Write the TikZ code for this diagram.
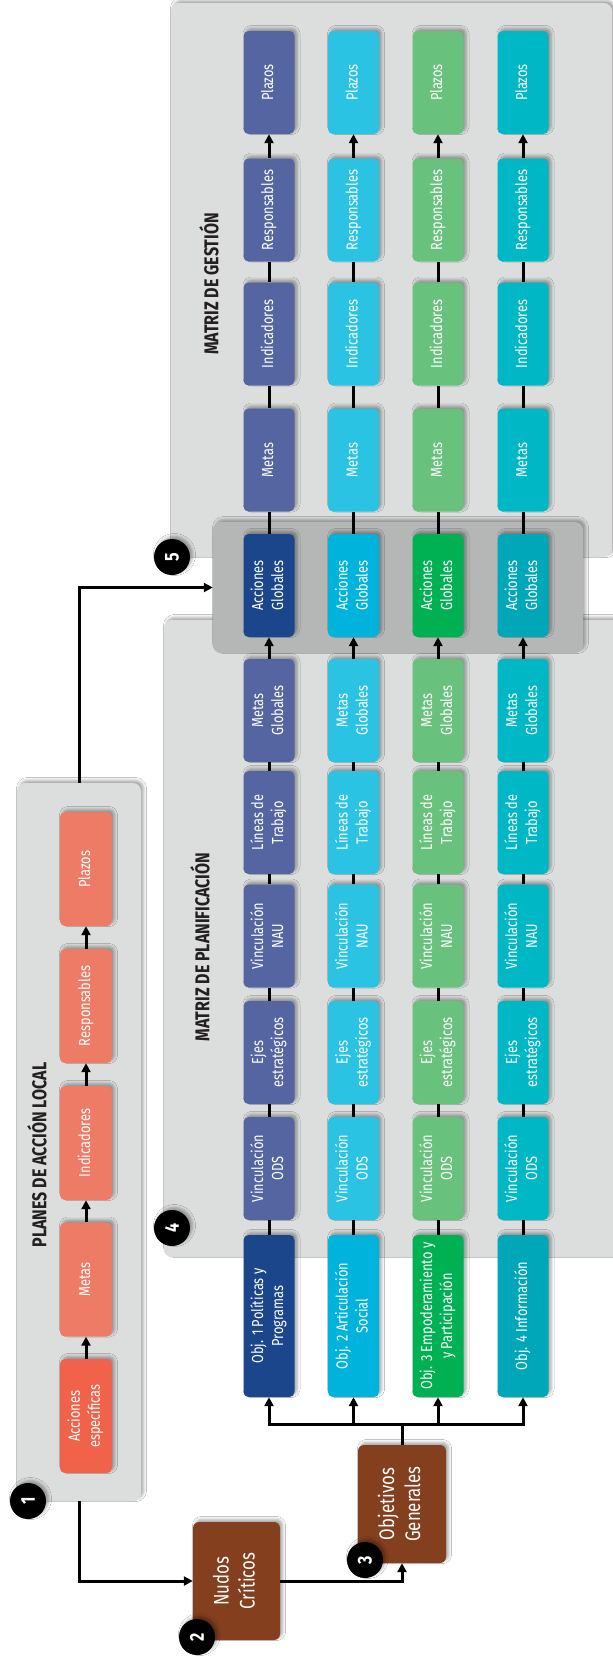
\documentclass[tikz,border=0pt]{standalone}
\usepackage{fontspec}
\usepackage{graphicx}
\setmainfont{Fira Sans}[FakeStretch=0.8]
\usetikzlibrary{arrows.meta,shadows.blur}
\definecolor{boxgray}{HTML}{DCDDDD}
\definecolor{aggray}{HTML}{B5B6B6}
\definecolor{salmon}{HTML}{EE7B66}
\definecolor{accred}{HTML}{F0634A}
\definecolor{brownc}{HTML}{843F1E}
\definecolor{titlec}{HTML}{231F20}
\definecolor{cAl}{HTML}{5565A1}\definecolor{cAd}{HTML}{1B468B}
\definecolor{cBl}{HTML}{2AC3E3}\definecolor{cBd}{HTML}{00B3DC}
\definecolor{cCl}{HTML}{69C17E}\definecolor{cCd}{HTML}{00B153}
\definecolor{cDl}{HTML}{00B8C5}\definecolor{cDd}{HTML}{00A7B8}
\newcommand\rtx[1]{\rotatebox{90}{\renewcommand\arraystretch{1}\begin{tabular}{@{}c@{}}#1\end{tabular}}}
\begin{document}
\begin{tikzpicture}[x=1pt,y=-1pt,
  sh/.style={blur shadow={shadow xshift=2.5pt,shadow yshift=2.5pt,shadow blur radius=3pt,shadow opacity=35}},
  panel/.style={sh,rectangle,rounded corners=8pt,fill=boxgray,inner sep=0pt},
  cell/.style={sh,rectangle,rounded corners=5pt,text=white,minimum width=51pt,minimum height=103pt,inner sep=0pt,font=\fontsize{16}{20}\selectfont},
  palcell/.style={cell,fill=salmon,minimum width=52pt,minimum height=114pt},
  bignode/.style={sh,rectangle,rounded corners=6pt,fill=brownc,text=white,minimum width=87pt,minimum height=118pt,inner sep=0pt,font=\fontsize{21}{26}\selectfont},
  ttl/.style={text=titlec,inner sep=0pt,font=\bfseries\fontsize{20}{24}\selectfont},
  circ/.style={sh,circle,fill=black,text=white,minimum size=36pt,inner sep=0pt,font=\bfseries\fontsize{20}{20}\selectfont},
  ln/.style={line width=3pt,draw=black},
  arr/.style={ln,-{Triangle[length=9pt,width=9pt]}},
  ]
\useasboundingbox (0,0) rectangle (613,1657);
\fill[white] (0,0) rectangle (613,1657);

% panels
\node[panel,minimum width=441pt,minimum height=554pt] (gest) at (391.5,280) {};
\node[panel,minimum width=476pt,minimum height=637pt] (plan) at (402,938.5) {};
\node[panel,minimum width=124pt,minimum height=718pt] (pal) at (79,1142) {};
\node[sh,rectangle,rounded corners=8pt,fill=aggray,minimum width=370pt,minimum height=131pt] (agbox) at (398,587.5) {};

% titles
\node[ttl] (tgest) at (209,284) {\rotatebox{90}{MATRIZ DE GESTIÓN}};
\node[ttl] (tplan) at (200,947) {\rotatebox{90}{MATRIZ DE PLANIFICACIÓN}};
\node[ttl] (tpal) at (37,1155) {\rotatebox{90}{PLANES DE ACCIÓN LOCAL}};

% matrix columns
\foreach \c/\x/\lc/\dc/\ot in {1/269/cAl/cAd/{Obj. 1 Políticas y\\Programas},
                              2/353.5/cBl/cBd/{Obj. 2 Articulación\\Social},
                              3/438/cCl/cCd/{Obj. 3 Empoderamiento y\\y Participación},
                              4/523/cDl/cDd/{Obj. 4 Información}}{
  \node[cell,fill=\lc] (plz\c) at (\x,82.5) {\rtx{Plazos}};
  \node[cell,fill=\lc] (res\c) at (\x,210) {\rtx{Responsables}};
  \node[cell,fill=\lc] (ind\c) at (\x,334) {\rtx{Indicadores}};
  \node[cell,fill=\lc] (met\c) at (\x,460) {\rtx{Metas}};
  \node[cell,fill=\dc] (ag\c) at (\x,585.5) {\rtx{Acciones\\Globales}};
  \node[cell,fill=\lc] (mg\c) at (\x,710.5) {\rtx{Metas\\Globales}};
  \node[cell,fill=\lc] (lt\c) at (\x,822.5) {\rtx{Líneas de\\Trabajo}};
  \node[cell,fill=\lc] (nau\c) at (\x,936) {\rtx{Vinculación\\NAU}};
  \node[cell,fill=\lc] (eje\c) at (\x,1052.5) {\rtx{Ejes\\estratégicos}};
  \node[cell,fill=\lc] (ods\c) at (\x,1168.5) {\rtx{Vinculación\\ODS}};
  \node[cell,fill=\dc,minimum height=162pt] (obj\c) at (\x,1316) {\rtx{\ot}};
  \draw[arr] (res\c) -- (plz\c);
  \draw[ln] (res\c) -- (ind\c);
  \draw[ln] (ind\c) -- (met\c);
  \draw[ln] (met\c) -- (ag\c);
  \draw[arr] (mg\c) -- (ag\c);
  \draw[ln] (mg\c) -- (lt\c);
  \draw[ln] (lt\c) -- (nau\c);
  \draw[ln] (nau\c) -- (eje\c);
  \draw[ln] (eje\c) -- (ods\c);
  \draw[ln] (ods\c) -- (obj\c);
}

% planes de accion local
\node[palcell] (pplz) at (86,869) {\rtx{Plazos}};
\node[palcell] (pres) at (86,1006) {\rtx{Responsables}};
\node[palcell] (pind) at (86,1143) {\rtx{Indicadores}};
\node[palcell] (pmet) at (86,1279.5) {\rtx{Metas}};
\node[palcell,fill=accred] (pacc) at (86,1416) {\rtx{Acciones\\específicas}};
\draw[arr] (pacc) -- (pmet);
\draw[arr] (pmet) -- (pind);
\draw[arr] (pind) -- (pres);
\draw[arr] (pres) -- (pplz);

% nudos and objetivos
\node[bignode] (nc) at (236.5,1581) {\rtx{Nudos\\Críticos}};
\node[bignode,minimum width=88pt] (og) at (402,1504) {\rtx{Objetivos\\Generales}};

% connectors
\draw[arr] (pal.north) |- (agbox);
\draw[arr] (pal.south) |- (nc);
\draw[arr] (nc) -| (og);
\coordinate (bar) at (402,1424);
\draw[ln] (og) -- (og |- bar);
\draw[ln,{Triangle[length=9pt,width=9pt]}-{Triangle[length=9pt,width=9pt]}] (obj1) -- (obj1 |- bar) -- (obj4 |- bar) -- (obj4);
\draw[arr] (obj2 |- bar) -- (obj2);
\draw[arr] (obj3 |- bar) -- (obj3);

% numbered circles
\node[circ] (n1) at (28,1501) {\rotatebox{90}{1}};
\node[circ] (n2) at (197,1637) {\rotatebox{90}{2}};
\node[circ] (n3) at (365,1560) {\rotatebox{90}{3}};
\node[circ] (n4) at (172,1228) {\rotatebox{90}{4}};
\node[circ] (n5) at (172,557) {\rotatebox{90}{5}};
\end{tikzpicture}
\end{document}
